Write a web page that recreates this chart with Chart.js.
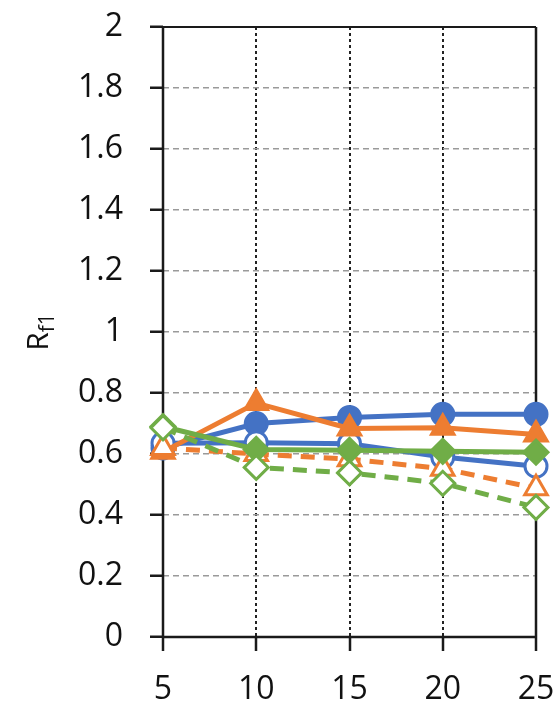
<!DOCTYPE html>
<html>
<head>
<meta charset="utf-8">
<script src="https://cdn.jsdelivr.net/npm/chart.js@4.4.0/dist/chart.umd.min.js"></script>
<style>
html,body{margin:0;padding:0;background:#fff;}
#wrap{width:558px;height:706px;}
</style>
</head>
<body>
<div id="wrap"><canvas id="c" width="558" height="706"></canvas></div>
<script>
const xValues = [5, 10, 15, 20, 25];
const xTicks = [5, 10, 15, 20, 25];
const yTicks = [0, 0.2, 0.4, 0.6, 0.8, 1, 1.2, 1.4, 1.6, 1.8, 2];
const blueFilled   = [0.62, 0.70, 0.72, 0.73, 0.73];
const blueOpen     = [0.635, 0.637, 0.634, 0.59, 0.56];
const orangeFilled = [0.607, 0.767, 0.684, 0.686, 0.664];
const orangeOpen   = [0.62, 0.60, 0.583, 0.552, 0.488];
const greenFilled  = [0.69, 0.615, 0.612, 0.609, 0.606];
const greenOpen    = [0.686, 0.556, 0.538, 0.504, 0.425];
const yTitleMain = 'R';
const yTitleSub = 'f1';

const BLUE = '#4472C4', ORANGE = '#ED7D31', GREEN = '#70AD47';
const FONT = "'Open Sans', sans-serif";

function pts(arr){ return xValues.map((x,i)=>({x:x,y:arr[i]})); }

function ds(data, color, style, filled, dashed, order){
  return {
    data: pts(data),
    borderColor: color,
    backgroundColor: filled ? color : '#ffffff',
    pointBackgroundColor: filled ? color : '#ffffff',
    pointBorderColor: color,
    pointBorderWidth: 3,
    pointStyle: style,
    pointRadius: style === 'triangle' ? 13 : (style === 'rectRot' ? 12 : 11),
    borderWidth: 5,
    borderDash: dashed ? [14, 9] : [],
    tension: 0,
    fill: false,
    clip: false,
    order: order
  };
}

const frame = {
  id: 'frame',
  beforeDatasetsDraw(chart){
    const a = chart.chartArea, ctx = chart.ctx;
    ctx.save();
    ctx.strokeStyle = '#1a1a1a';
    ctx.lineWidth = 2.5;
    ctx.setLineDash([]);
    ctx.beginPath();
    ctx.moveTo(a.left, a.top); ctx.lineTo(a.left, a.bottom);
    ctx.moveTo(a.left, a.bottom); ctx.lineTo(a.right, a.bottom);
    ctx.moveTo(a.right, a.bottom); ctx.lineTo(a.right, a.top);
    ctx.stroke();
    ctx.lineWidth = 2;
    ctx.beginPath();
    ctx.moveTo(a.left, a.top); ctx.lineTo(a.right, a.top);
    ctx.stroke();
    ctx.restore();
  },
  afterDraw(chart){
    const a = chart.chartArea, ctx = chart.ctx;
    ctx.save();
    ctx.translate(38, (a.top + a.bottom)/2);
    ctx.rotate(-Math.PI/2);
    ctx.fillStyle = '#111';
    ctx.textBaseline = 'alphabetic';
    ctx.font = "30px " + FONT;
    const wR = ctx.measureText(yTitleMain).width;
    ctx.font = "21px " + FONT;
    const wS = ctx.measureText(yTitleSub).width;
    const total = wR + wS;
    ctx.font = "30px " + FONT;
    ctx.fillText(yTitleMain, -total/2, 10);
    ctx.font = "21px " + FONT;
    ctx.fillText(yTitleSub, -total/2 + wR, 16);
    ctx.restore();
  }
};

new Chart(document.getElementById('c'), {
  type: 'line',
  data: {
    datasets: [
      ds(blueFilled, BLUE, 'circle', true, false, 5),
      ds(blueOpen, BLUE, 'circle', false, false, 4),
      ds(orangeFilled, ORANGE, 'triangle', true, false, 3),
      ds(orangeOpen, ORANGE, 'triangle', false, true, 2),
      ds(greenFilled, GREEN, 'rectRot', true, false, 1),
      ds(greenOpen, GREEN, 'rectRot', false, true, 0)
    ]
  },
  options: {
    responsive: false,
    animation: false,
    layout: { autoPadding: false, padding: { top: 27, right: 22, left: 0, bottom: 0 } },
    plugins: { legend: { display: false }, tooltip: { enabled: false } },
    scales: {
      x: {
        type: 'linear',
        min: 5, max: 25,
        afterBuildTicks(s){ s.ticks = xTicks.map(v=>({value:v})); },
        afterFit(s){ s.height = 69; s.paddingLeft = 0; s.paddingRight = 0; },
        border: { display: false, dash: [3, 3] },
        grid: {
          color: '#222',
          lineWidth: 2,
          drawTicks: true,
          tickLength: 14,
          tickColor: '#1a1a1a',
          tickWidth: 2.5,
          tickBorderDash: []
        },
        ticks: {
          color: '#111',
          font: { family: FONT, size: 32 },
          padding: 20,
          maxRotation: 0,
          callback: v => String(v)
        }
      },
      y: {
        min: 0, max: 2,
        afterBuildTicks(s){ s.ticks = yTicks.map(v=>({value:v})); },
        afterFit(s){ s.width = 163; s.paddingTop = 0; s.paddingBottom = 0; },
        border: { display: false, dash: [6, 4] },
        grid: {
          color: '#9a9a9a',
          lineWidth: 1.5,
          drawTicks: true,
          tickLength: 13,
          tickColor: '#1a1a1a',
          tickWidth: 2.5,
          tickBorderDash: []
        },
        ticks: {
          color: '#111',
          font: { family: FONT, size: 32 },
          padding: 27,
          callback: v => String(Math.round(v*10)/10)
        }
      }
    }
  },
  plugins: [frame]
});
</script>
</body>
</html>
